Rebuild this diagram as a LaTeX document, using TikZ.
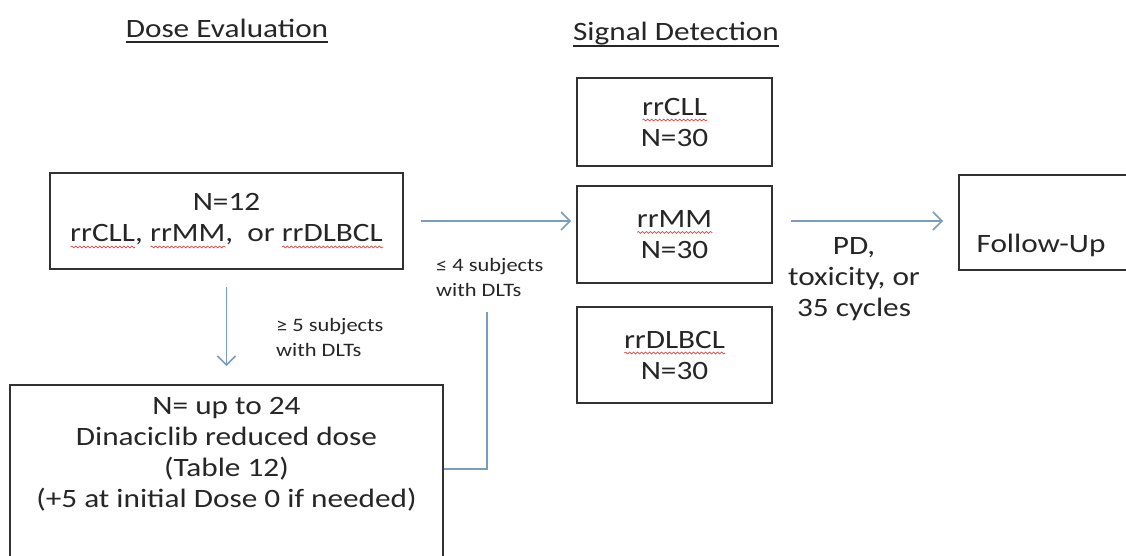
\documentclass[tikz,border=0pt]{standalone}
\usepackage{fontspec}
\setmainfont{Carlito}[FakeStretch=1.18]
\usetikzlibrary{arrows.meta,decorations.pathmorphing}
\definecolor{boxc}{RGB}{50,50,50}
\definecolor{txtc}{RGB}{38,38,38}
\definecolor{arrc}{RGB}{122,156,190}
\definecolor{spellc}{RGB}{220,70,70}
\newlength\spw
\newcommand\spl[1]{\settowidth\spw{#1}\rlap{\tikz[baseline=0pt]\draw[spellc,line width=0.7pt,decorate,decoration={snake,amplitude=0.9pt,segment length=4pt}] (0pt,-5pt) -- (\spw,-5pt);}#1}
\begin{document}
\begin{tikzpicture}[x=1pt,y=-1pt,
  box/.style={draw=boxc, line width=1.8pt, inner sep=0pt},
  body/.style={font=\fontsize{26.5}{31}\selectfont, align=center, text=txtc, inner sep=0pt},
  lab/.style={font=\fontsize{19}{25}\selectfont, align=left, text=txtc, inner sep=0pt},
  ttl/.style={font=\fontsize{26.5}{31}\selectfont, text=txtc, inner sep=0pt},
  uline/.style={draw=txtc, line width=1.6pt},
  arr/.style={draw=arrc, line width=1.5pt, -{Straight Barb[length=9pt,width=18pt]}},
  link/.style={draw=arrc, line width=1.5pt}]
\clip (0,0) rectangle (1126,555);
\fill[white] (0,0) rectangle (1126,555);
% titles
\node[ttl] (t1) at (227,28) {Dose Evaluation};
\draw[uline] ([yshift=-5pt]t1.base west) -- ([yshift=-5pt]t1.base east);
\node[ttl] (t2) at (676,34) {Signal Detection};
\draw[uline] ([yshift=-5pt]t2.base west) -- ([yshift=-5pt]t2.base east);
% dose evaluation boxes
\node[box, body, minimum width=353pt, minimum height=96pt] (A) at (226.5,221)
  {N=12\\\spl{rrCLL}, \spl{rrMM},\ \ or \spl{rrDLBCL}};
\node[box, minimum width=433pt, minimum height=200pt, anchor=north] (Bbox) at (226.5,384) {};
\node[body] (Btext) at (226.5,454) {N= up to 24\\Dinaciclib reduced dose\\(Table 12)\\(+5 at initial Dose 0 if needed)};
% signal detection boxes
\node[box, body, minimum width=195pt, minimum height=88pt] (CLL) at (674.5,122) {\spl{rrCLL}\\N=30};
\node[box, body, minimum width=195pt, minimum height=97pt] (MM) at (674.5,234.5) {\spl{rrMM}\\N=30};
\node[box, body, minimum width=195pt, minimum height=96pt] (DL) at (674.5,355) {\spl{rrDLBCL}\\N=30};
% follow-up
\node[box, minimum width=182pt, minimum height=95pt, anchor=north west] (FU) at (958,174) {};
\node[body] (FUtext) at (1041,245) {Follow-Up};
% labels
\node[lab, anchor=west] (l5) at (276,337) {≥ 5 subjects\\with DLTs};
\node[lab, anchor=west] (l4) at (436,277) {≤ 4 subjects\\with DLTs};
\node[body] (lpd) at (854,279) {PD,\\toxicity, or\\35 cycles};
% connectors
\draw[arr, shorten <=17pt, shorten >=5pt] (A.east) -- (A.east -| MM.west);
\draw[arr, shorten <=18pt, shorten >=15pt] (A.east -| MM.east) -- (A.east -| FU.west);
\draw[arr, shorten <=17pt, shorten >=18pt] (A.south) -- (Bbox.north);
\coordinate (bend) at (487,469);
\coordinate (ctop) at (487,312);
\draw[link] (Bbox.east |- bend) -- (bend) -- (ctop);
\end{tikzpicture}
\end{document}
